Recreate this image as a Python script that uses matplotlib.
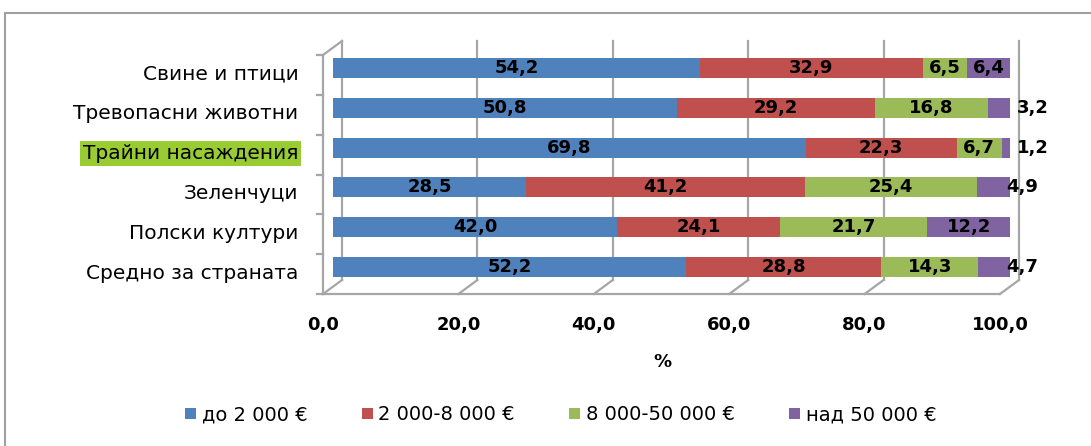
import matplotlib
matplotlib.use('Agg')
import matplotlib.pyplot as plt
from matplotlib.transforms import ScaledTranslation, IdentityTransform
from matplotlib.lines import Line2D
from matplotlib.patches import Patch, Rectangle

# ---- data (bottom to top) ----
categories = ['Средно за страната', 'Полски култури', 'Зеленчуци',
              'Трайни насаждения', 'Тревопасни животни', 'Свине и птици']
series_names = ['до 2 000 €', '2 000-8 000 €', '8 000-50 000 €', 'над 50 000 €']
s_upto2000 = [52.2, 42.0, 28.5, 69.8, 50.8, 54.2]
s_2000_8000 = [28.8, 24.1, 41.2, 22.3, 29.2, 32.9]
s_8000_50000 = [14.3, 21.7, 25.4, 6.7, 16.8, 6.5]
s_over50000 = [4.7, 12.2, 4.9, 1.2, 3.2, 6.4]
xtick_values = [0, 20, 40, 60, 80, 100]
xtick_labels = ['0,0', '20,0', '40,0', '60,0', '80,0', '100,0']
highlight_category = 'Трайни насаждения'

colors = ['#4F81BD', '#C0504D', '#9BBB59', '#8064A2']
series = [s_upto2000, s_2000_8000, s_8000_50000, s_over50000]

plt.rcParams['font.family'] = ['DejaVu Sans']

W, H = 1091, 446
fig = plt.figure(figsize=(W / 100, H / 100), dpi=100)
ax = fig.add_axes([333 / W, 1 - 287 / H, 677 / W, 239 / H])
ax.set_xlim(0, 100)
ax.set_ylim(-0.5, len(categories) - 0.5)
for sp in ax.spines.values():
    sp.set_visible(False)

def fmt(v):
    return f'{v:.1f}'.replace('.', ',')

def P(x, y, dx=0, dy=0):
    px, py = ax.transData.transform((x, y))
    return px + dx, py - dy

def line(p0, p1, z=1, **kw):
    ax.add_line(Line2D([p0[0], p1[0]], [p0[1], p1[1]],
                       transform=IdentityTransform(), color='#a6a6a6',
                       lw=1.6, zorder=z, clip_on=False, **kw))

BX, BY = 9, -7   # back wall offset (px right, px down)
FX, FY = -10, 7  # front plane offset
y0, y1 = -0.5, len(categories) - 0.5

# back wall verticals + floor diagonals
for xv in xtick_values:
    line(P(xv, y0, BX, BY), P(xv, y1, BX, BY))
    line(P(xv, y0, BX, BY), P(xv, y0, FX, FY))
# front axis line
line(P(0, y0, FX, FY), P(100, y0, FX, FY), z=4)
# left wall front edge + top diagonal
line(P(0, y0, FX, FY), P(0, y1, FX, FY), z=4)
line(P(0, y1, FX, FY), P(0, y1, BX, BY), z=4)
# category boundary ticks
for i in range(len(categories) + 1):
    b = i - 0.5
    line(P(0, b, FX, FY), P(0, b, FX - 6, FY), z=4)

# bars
ypos = list(range(len(categories)))
lefts = [0.0] * len(categories)
for vals, c, name in zip(series, colors, series_names):
    ax.barh(ypos, vals, left=lefts, height=0.5, color=c, zorder=3, label=name)
    for i, v in enumerate(vals):
        xc = lefts[i] + v / 2
        ha = 'center'
        tr = ax.transData
        if c == colors[-1] and v < 4:
            xc, ha = 100, 'left'
            tr = ax.transData + ScaledTranslation(7 / 100, 0, fig.dpi_scale_trans)
        elif c == colors[-1] and v < 6:
            xc = 100
            tr = ax.transData + ScaledTranslation(12 / 100, 0, fig.dpi_scale_trans)
        ax.text(xc, i, fmt(v), ha=ha, va='center', fontsize=13,
                fontweight='bold', color='black', zorder=5, transform=tr)
    lefts = [l + v for l, v in zip(lefts, vals)]

# ticks
ax.set_xticks(xtick_values, xtick_labels, fontsize=13, fontweight='bold')
ax.set_yticks(ypos, categories, fontsize=14.5)
ax.tick_params(axis='x', length=0, pad=21)
ax.tick_params(axis='y', length=0, pad=25)
for lab in ax.get_xticklabels():
    lab.set_transform(lab.get_transform() + ScaledTranslation(-10 / 100, 0, fig.dpi_scale_trans))
for lab in ax.get_yticklabels():
    lab.set_transform(lab.get_transform() + ScaledTranslation(0, -4 / 100, fig.dpi_scale_trans))
    if lab.get_text() == highlight_category:
        lab.set_bbox(dict(boxstyle='square,pad=0.15', facecolor='#99CC33', edgecolor='none'))

ax.set_xlabel('%', fontsize=13, fontweight='bold', va='center')
ax.xaxis.set_label_coords(0.486, -(362 - 287) / 239)

# legend
handles = [Patch(facecolor=c, edgecolor='none', label=n) for c, n in zip(colors, series_names)]
fig.legend(handles=handles, loc='center', bbox_to_anchor=(0.514, 1 - 415 / H), ncol=4,
           frameon=False, fontsize=14, handlelength=0.55, handleheight=0.55,
           handletextpad=0.3, columnspacing=2.8)

# outer frame
fig.add_artist(Rectangle((5 / W, -0.1), 1.2, 1.1 - 13 / H, transform=fig.transFigure,
                         fill=False, edgecolor='#a0a0a0', lw=1.5))

fig.savefig('out.png', dpi=100)
